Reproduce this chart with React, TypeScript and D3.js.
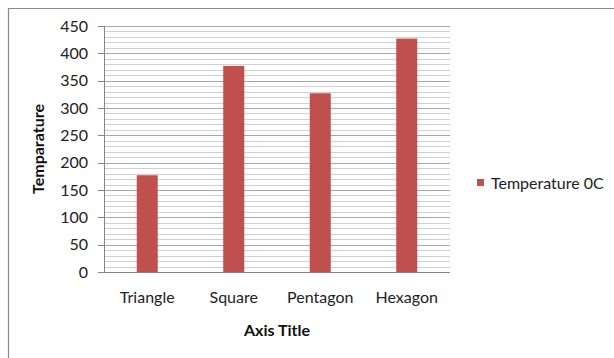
import React from "react";
import * as d3 from "d3";

const categories = ["Triangle", "Square", "Pentagon", "Hexagon"];
const temperatures = [177, 377, 327, 427];
const seriesName = "Temperature 0C";
const yTicks = [0, 50, 100, 150, 200, 250, 300, 350, 400, 450];
const xAxisTitle = "Axis Title";
const yAxisTitle = "Temparature";

const FONT = "Lato, 'Open Sans', sans-serif";

export default function App() {
  const W = 614;
  const H = 358;
  const plot = { left: 104, right: 450, top: 26, bottom: 272 };

  const x = d3
    .scaleBand<string>()
    .domain(categories)
    .range([plot.left, plot.right])
    .paddingInner(0.757)
    .paddingOuter(0.757 / 2);
  const y = d3.scaleLinear().domain([0, 450]).range([plot.bottom, plot.top]);

  const minor = d3.range(10, 450, 10).filter((v) => v % 50 !== 0);
  const major = yTicks.filter((v) => v > 0);

  return (
    <svg
      width={W}
      height={H}
      style={{ position: "absolute", left: 0, top: 0, background: "#fff" }}
      fontFamily={FONT}
    >
      <rect x={0} y={0} width={W} height={H} fill="#fff" />
      {/* outer chart frame */}
      <path d={`M8.5,${H + 2} V8.5 H${W + 2}`} fill="none" stroke="#8a8a8a" strokeWidth={1.2} />

      {/* minor gridlines */}
      {minor.map((v) => (
        <line
          key={"mi" + v}
          x1={plot.left}
          x2={plot.right}
          y1={Math.round(y(v)) + 0.5}
          y2={Math.round(y(v)) + 0.5}
          stroke="#d0d0d0"
          strokeWidth={1}
        />
      ))}
      {/* major gridlines */}
      {major.map((v) => (
        <line
          key={"ma" + v}
          x1={plot.left}
          x2={plot.right}
          y1={Math.round(y(v)) + 0.5}
          y2={Math.round(y(v)) + 0.5}
          stroke="#a8a8a8"
          strokeWidth={1}
        />
      ))}

      {/* bars */}
      {categories.map((c, i) => (
        <rect
          key={c}
          x={x(c)!}
          y={y(temperatures[i])}
          width={x.bandwidth()}
          height={y(0) - y(temperatures[i])}
          fill="#C0504D"
        />
      ))}

      {/* axes */}
      <line x1={plot.left + 0.5} x2={plot.left + 0.5} y1={plot.top} y2={plot.bottom} stroke="#868686" />
      <line x1={plot.left - 6} x2={plot.right} y1={plot.bottom + 0.5} y2={plot.bottom + 0.5} stroke="#868686" />
      {yTicks.map((v) => (
        <g key={"t" + v}>
          <line
            x1={plot.left - 6}
            x2={plot.left}
            y1={Math.round(y(v)) + 0.5}
            y2={Math.round(y(v)) + 0.5}
            stroke="#868686"
          />
          <text
            x={88}
            y={y(v)}
            dy="0.35em"
            textAnchor="end"
            fontSize={16}
            fill="#222"
          >
            {v}
          </text>
        </g>
      ))}

      {/* category labels */}
      {categories.map((c) => (
        <text
          key={"l" + c}
          x={x(c)! + x.bandwidth() / 2}
          y={303}
          textAnchor="middle"
          fontSize={16}
          fill="#222"
        >
          {c}
        </text>
      ))}

      {/* axis titles */}
      <text x={(plot.left + plot.right) / 2} y={336} textAnchor="middle" fontSize={16} fontWeight="bold" fill="#111">
        {xAxisTitle}
      </text>
      <text
        transform={`translate(44,${(plot.top + plot.bottom) / 2}) rotate(-90)`}
        textAnchor="middle"
        fontSize={16}
        fontWeight="bold"
        fill="#111"
      >
        {yAxisTitle}
      </text>

      {/* legend */}
      <rect x={477} y={179} width={7} height={7} fill="#C0504D" />
      <text x={491} y={183} dy="0.35em" fontSize={16} fill="#222">
        {seriesName}
      </text>
    </svg>
  );
}
